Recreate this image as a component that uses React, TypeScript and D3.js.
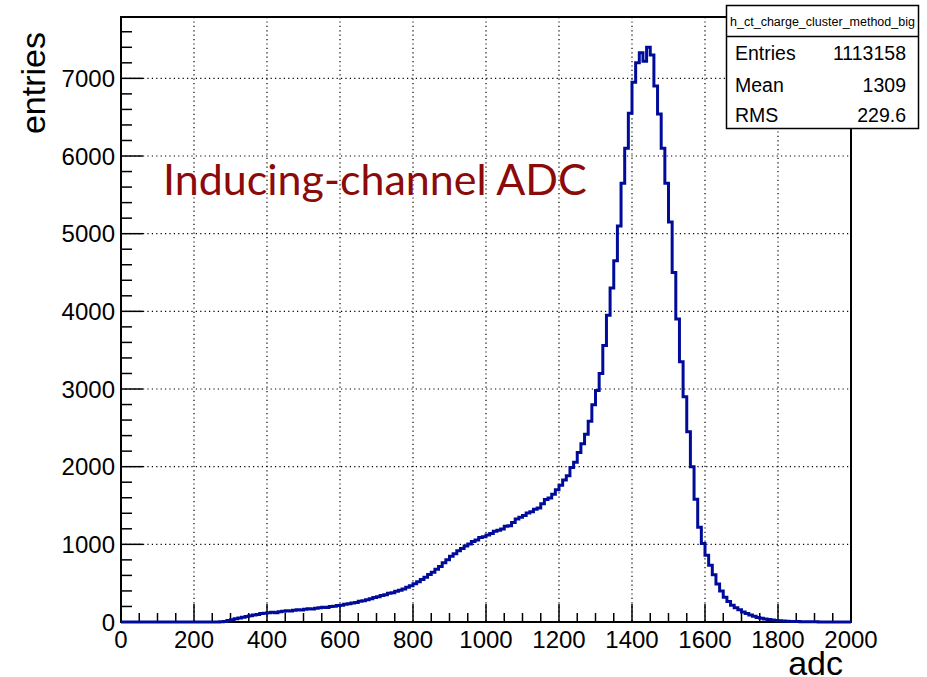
import React, { useEffect, useRef } from "react";
import * as d3 from "d3";

// bin contents, 10 adc per bin
const countsLow = [
  0, 0, 0, 0, 0, 0, 0, 0, 0, 0,
  0, 0, 0, 0, 0, 0, 0, 0, 0, 0,
  0, 0, 0, 0, 0, 0, 0, 3, 8, 18,
  30, 42, 52, 60, 70, 82, 90, 98, 108, 112,
  118, 124, 120, 133, 138, 145, 142, 152, 158, 155,
];
const countsMid = [
  163, 170, 166, 178, 183, 190, 186, 199, 204, 211,
  216, 228, 234, 246, 250, 266, 274, 285, 298, 314,
  326, 340, 352, 370, 378, 396, 410, 426, 448, 468,
  494, 518, 548, 576, 612, 640, 678, 716, 762, 800,
  848, 878, 918, 946, 978, 1005, 1038, 1055, 1088, 1098,
];
const countsRise = [
  1120, 1138, 1168, 1182, 1198, 1232, 1240, 1282, 1326, 1348,
  1372, 1404, 1418, 1452, 1468, 1522, 1578, 1598, 1644, 1702,
  1760, 1828, 1884, 1990, 2058, 2182, 2296, 2418, 2584, 2796,
  2980, 3200, 3560, 3950, 4300, 4650, 5100, 5650, 6100, 6550,
  6950, 7200, 7330, 7220, 7400, 7300, 6900, 6540, 6100, 5650,
];
const countsFall = [
  5150, 4500, 3900, 3350, 2900, 2450, 2000, 1580, 1220, 1010,
  860, 730, 610, 490, 400, 320, 265, 215, 185, 158,
  128, 110, 90, 74, 58, 48, 40, 32, 26, 20,
  15, 12, 10, 8, 6, 5, 4, 3, 3, 2,
  2, 1, 1, 1, 1, 0, 1, 0, 0, 0,
];

const xTicks = [0, 200, 400, 600, 800, 1000, 1200, 1400, 1600, 1800, 2000];
const yTicks = [0, 1000, 2000, 3000, 4000, 5000, 6000, 7000];
const statsLabels = ["Entries", "Mean", "RMS"];
const statsValues = ["1113158", "1309", "229.6"];

const W = 927;
const H = 677;

export default function App() {
  const svgRef = useRef(null);

  useEffect(() => {
    const svg = d3.select(svgRef.current);
    svg.selectAll("*").remove();

    const counts = [...countsLow, ...countsMid, ...countsRise, ...countsFall];
    const binW = 2000 / counts.length;

    const left = 121, right = 851, top = 17, bottom = 622;
    const x = d3.scaleLinear().domain([0, 2000]).range([left, right]);
    const y = d3.scaleLinear().domain([0, 7790]).range([bottom, top]);

    const font = "'Liberation Sans', Arial, Helvetica, sans-serif";

    svg.append("rect").attr("width", W).attr("height", H).attr("fill", "#fff");

    // grid
    const grid = svg.append("g").attr("stroke", "#000").attr("stroke-width", 1.2)
      .attr("stroke-dasharray", "1.2,3.2");
    xTicks.slice(1, -1).forEach((t) => {
      grid.append("line").attr("x1", x(t)).attr("x2", x(t)).attr("y1", top).attr("y2", bottom);
    });
    yTicks.slice(1).forEach((t) => {
      grid.append("line").attr("x1", left).attr("x2", right).attr("y1", y(t)).attr("y2", y(t));
    });

    // ticks
    const tk = svg.append("g").attr("stroke", "#000").attr("stroke-width", 1.5);
    d3.range(0, 2001, 50).forEach((t) => {
      const len = t % 200 === 0 ? 18 : 9;
      tk.append("line").attr("x1", x(t)).attr("x2", x(t)).attr("y1", bottom).attr("y2", bottom - len);
    });
    d3.range(0, 7791, 200).forEach((t) => {
      const len = t % 1000 === 0 ? 22 : 11;
      tk.append("line").attr("x1", left).attr("x2", left + len).attr("y1", y(t)).attr("y2", y(t));
    });

    // frame
    svg.append("rect")
      .attr("x", left).attr("y", top)
      .attr("width", right - left).attr("height", bottom - top)
      .attr("fill", "none").attr("stroke", "#000").attr("stroke-width", 2);

    // histogram outline
    const pts: [number, number][] = counts.map((c, i) => [i * binW, c]);
    pts.push([2000, counts[counts.length - 1]]);
    const line = d3.line<[number, number]>()
      .x((d) => x(d[0]))
      .y((d) => y(d[1]))
      .curve(d3.curveStepAfter);
    svg.append("path")
      .attr("d", line(pts))
      .attr("fill", "none")
      .attr("stroke", "#000c99")
      .attr("stroke-width", 3)
      .attr("stroke-linejoin", "miter");

    // tick labels
    svg.append("g").selectAll("text").data(xTicks).enter().append("text")
      .attr("x", (d) => x(d)).attr("y", 648)
      .attr("text-anchor", "middle")
      .attr("font-family", font).attr("font-size", 24)
      .text((d) => d);
    svg.append("g").selectAll("text").data(yTicks).enter().append("text")
      .attr("x", 115).attr("y", (d) => y(d) + 8.5)
      .attr("text-anchor", "end")
      .attr("font-family", font).attr("font-size", 24)
      .text((d) => d);

    // axis titles
    svg.append("text")
      .attr("x", 843).attr("y", 675)
      .attr("text-anchor", "end")
      .attr("font-family", font).attr("font-size", 34)
      .text("adc");
    svg.append("text")
      .attr("transform", "translate(45,32) rotate(-90)")
      .attr("text-anchor", "end")
      .attr("font-family", font).attr("font-size", 34)
      .text("entries");

    // annotation
    svg.append("text")
      .attr("x", 163).attr("y", 195)
      .attr("font-family", "Lato, 'Open Sans', sans-serif")
      .attr("font-size", 43)
      .attr("fill", "#8b0a0a")
      .text("Inducing-channel ADC");

    // stats box
    const bx = 726.5, by = 5.5, bw = 192, bh = 123;
    const stats = svg.append("g");
    stats.append("rect")
      .attr("x", bx).attr("y", by).attr("width", bw).attr("height", bh)
      .attr("fill", "#fff").attr("stroke", "#000").attr("stroke-width", 1.5);
    stats.append("line")
      .attr("x1", bx).attr("x2", bx + bw).attr("y1", 36.5).attr("y2", 36.5)
      .attr("stroke", "#000").attr("stroke-width", 1.5);
    stats.append("text")
      .attr("x", bx + bw / 2).attr("y", 26)
      .attr("text-anchor", "middle")
      .attr("font-family", font).attr("font-size", 12.5)
      .text("h_ct_charge_cluster_method_big");
    const rowY = [60, 91.5, 121.5];
    statsLabels.forEach((lab, i) => {
      stats.append("text")
        .attr("x", 735).attr("y", rowY[i])
        .attr("font-family", font).attr("font-size", 19.5)
        .text(lab);
      stats.append("text")
        .attr("x", 906).attr("y", rowY[i])
        .attr("text-anchor", "end")
        .attr("font-family", font).attr("font-size", 19.5)
        .text(statsValues[i]);
    });
  }, []);

  return (
    <svg
      ref={svgRef}
      width={W}
      height={H}
      style={{ position: "absolute", left: 0, top: 0 }}
    />
  );
}
